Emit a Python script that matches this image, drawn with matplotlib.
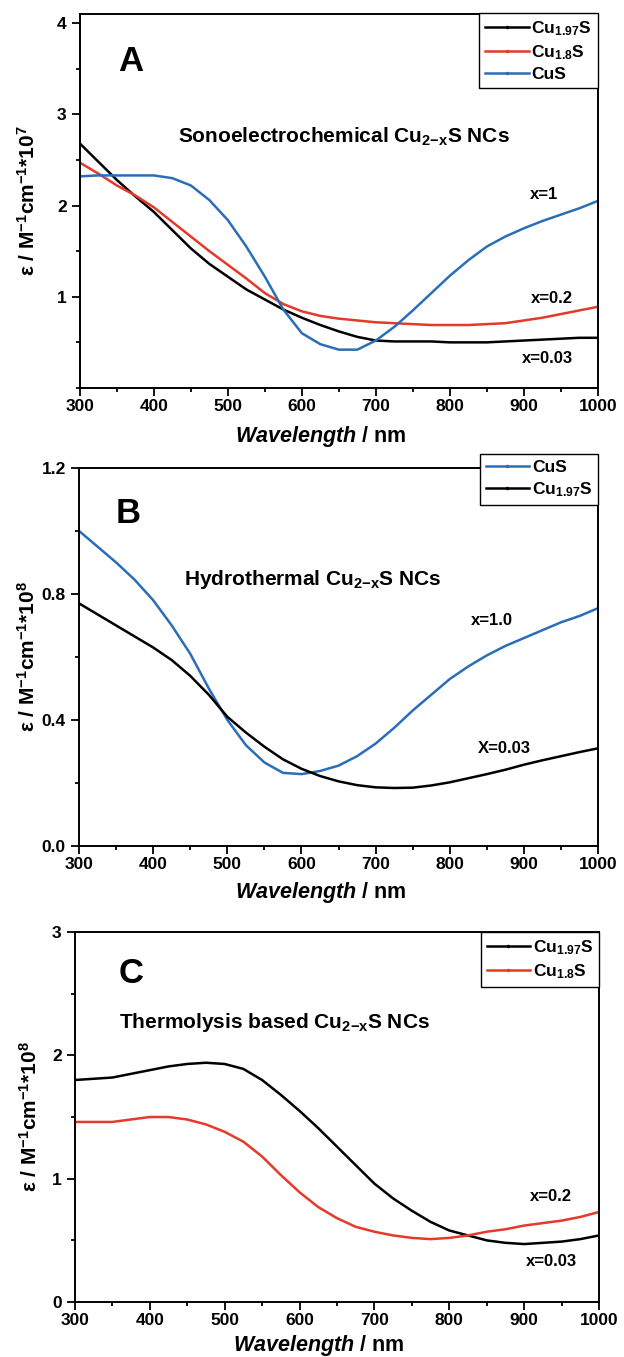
import numpy as np
import matplotlib
matplotlib.use("Agg")
import matplotlib.pyplot as plt
from matplotlib.lines import Line2D
from matplotlib.ticker import MultipleLocator

plt.rcParams['font.family'] = ['Liberation Sans', 'DejaVu Sans']
plt.rcParams['font.weight'] = 'bold'
plt.rcParams['axes.labelweight'] = 'bold'
plt.rcParams['mathtext.fontset'] = 'custom'
plt.rcParams['mathtext.rm'] = 'Liberation Sans:bold'
plt.rcParams['mathtext.bf'] = 'Liberation Sans:bold'
plt.rcParams['mathtext.it'] = 'Liberation Sans:italic:bold'
plt.rcParams['mathtext.default'] = 'bf'

# wavelength grid (nm), read every 25 nm
wl = np.arange(300, 1001, 25)

# panel A: sonoelectrochemical, eps x 1e7
a_cu197 = [2.68, 2.48, 2.28, 2.10, 1.93, 1.73, 1.53, 1.36, 1.22, 1.08, 0.97, 0.86, 0.77, 0.69, 0.62,
           0.56, 0.52, 0.51, 0.51, 0.51, 0.50, 0.50, 0.50, 0.51, 0.52, 0.53, 0.54, 0.55, 0.55]
a_cu18 = [2.47, 2.35, 2.22, 2.11, 1.98, 1.82, 1.66, 1.50, 1.35, 1.20, 1.04, 0.92, 0.84, 0.79, 0.76,
          0.74, 0.72, 0.71, 0.70, 0.69, 0.69, 0.69, 0.70, 0.71, 0.74, 0.77, 0.81, 0.85, 0.89]
a_cus = [2.32, 2.33, 2.33, 2.33, 2.33, 2.30, 2.22, 2.06, 1.84, 1.55, 1.22, 0.86, 0.60, 0.48, 0.42,
         0.42, 0.52, 0.67, 0.85, 1.04, 1.23, 1.40, 1.55, 1.66, 1.75, 1.83, 1.90, 1.97, 2.05]

# panel B: hydrothermal, eps x 1e8
b_cus = [1.00, 0.95, 0.90, 0.845, 0.78, 0.70, 0.61, 0.50, 0.40, 0.32, 0.265, 0.232, 0.228, 0.238, 0.255,
         0.285, 0.325, 0.375, 0.43, 0.48, 0.53, 0.57, 0.605, 0.635, 0.66, 0.685, 0.71, 0.73, 0.755]
b_cu197 = [0.77, 0.735, 0.70, 0.665, 0.63, 0.59, 0.54, 0.48, 0.41, 0.36, 0.315, 0.275, 0.245, 0.222, 0.205,
           0.193, 0.186, 0.184, 0.185, 0.192, 0.202, 0.215, 0.228, 0.242, 0.258, 0.272, 0.285, 0.298, 0.31]

# panel C: thermolysis, eps x 1e8
c_cu197 = [1.80, 1.81, 1.82, 1.85, 1.88, 1.91, 1.93, 1.94, 1.93, 1.89, 1.80, 1.68, 1.55, 1.41, 1.26,
           1.11, 0.96, 0.84, 0.74, 0.65, 0.58, 0.54, 0.50, 0.48, 0.47, 0.48, 0.49, 0.51, 0.54]
c_cu18 = [1.46, 1.46, 1.46, 1.48, 1.50, 1.50, 1.48, 1.44, 1.38, 1.30, 1.18, 1.03, 0.89, 0.77, 0.68,
          0.61, 0.57, 0.54, 0.52, 0.51, 0.52, 0.54, 0.57, 0.59, 0.62, 0.64, 0.66, 0.69, 0.73]

BLACK = 'black'
RED = '#e5392a'
BLUE = '#2c6db8'
LW = 1.8

fig = plt.figure(figsize=(6.24, 13.57), dpi=100)


def style_axes(ax, ymax, yticks, yminor, ylabel, ylab_x, xlab_y):
    ax.set_xlim(300, 1000)
    ax.set_ylim(0, ymax)
    ax.set_xticks(range(300, 1001, 100))
    ax.xaxis.set_minor_locator(MultipleLocator(50))
    ax.set_yticks(yticks)
    ax.yaxis.set_minor_locator(MultipleLocator(yminor))
    ax.tick_params(which='both', direction='out', top=False, right=False, labelsize=12.5, width=1.3)
    ax.tick_params(which='major', length=5.5)
    ax.tick_params(which='minor', length=3)
    ax.tick_params(axis='x', pad=2.5)
    ax.tick_params(axis='y', pad=4)
    for s in ax.spines.values():
        s.set_linewidth(1.4)
    ax.set_xlabel('$\\mathit{Wavelength}$ / nm', fontsize=15.5)
    ax.xaxis.set_label_coords(0.465, xlab_y)
    ax.set_ylabel(ylabel, fontsize=15)
    ax.yaxis.set_label_coords(ylab_x, 0.5)


def add_legend(ax, labels, colors, yanchor):
    handles = [Line2D([], [], color=c, lw=LW, marker='.', markersize=3) for c in colors]
    leg = ax.legend(handles, labels, loc='upper right', bbox_to_anchor=(1.0, yanchor),
                    borderaxespad=0, fancybox=False, edgecolor='black', framealpha=1,
                    fontsize=12.5, handlelength=2.5, handletextpad=0.15, labelspacing=0.3,
                    borderpad=0.35)
    leg.get_frame().set_linewidth(1.0)


# A
axA = fig.add_axes([0.128, 0.7141, 0.830, 0.2756])
axA.plot(wl, a_cu197, color=BLACK, lw=LW)
axA.plot(wl, a_cu18, color=RED, lw=LW)
axA.plot(wl, a_cus, color=BLUE, lw=LW)
style_axes(axA, 4.1, [1, 2, 3, 4], 0.5, 'ε / M$^{-1}$cm$^{-1}$*10$^{7}$', -0.08, -0.097)
add_legend(axA, ['Cu$_{1.97}$S', 'Cu$_{1.8}$S', 'CuS'], [BLACK, RED, BLUE], 1.003)
axA.text(369, 3.58, 'A', fontsize=25, ha='center', va='center')
axA.text(432, 2.75, 'Sonoelectrochemical Cu$_{2{-}x}$S NCs', fontsize=15, ha='left', va='center')
axA.text(927, 2.12, 'x=1', fontsize=12, ha='center', va='center')
axA.text(938, 0.98, 'x=0.2', fontsize=12, ha='center', va='center')
axA.text(932, 0.32, 'x=0.03', fontsize=12, ha='center', va='center')

# B
axB = fig.add_axes([0.1266, 0.3766, 0.832, 0.2786])
axB.plot(wl, b_cus, color=BLUE, lw=LW)
axB.plot(wl, b_cu197, color=BLACK, lw=LW)
style_axes(axB, 1.2, [0.0, 0.4, 0.8, 1.2], 0.2, 'ε / M$^{-1}$cm$^{-1}$*10$^{8}$', -0.077, -0.09)
axB.set_yticklabels(['0.0', '0.4', '0.8', '1.2'])
add_legend(axB, ['CuS', 'Cu$_{1.97}$S'], [BLUE, BLACK], 1.037)
axB.text(366, 1.056, 'B', fontsize=25, ha='center', va='center')
axB.text(441, 0.846, 'Hydrothermal Cu$_{2{-}x}$S NCs', fontsize=15, ha='left', va='center')
axB.text(857, 0.717, 'x=1.0', fontsize=12, ha='center', va='center')
axB.text(873, 0.309, 'X=0.03', fontsize=12, ha='center', va='center')

# C
axC = fig.add_axes([0.120, 0.0405, 0.840, 0.2727])
axC.plot(wl, c_cu197, color=BLACK, lw=LW)
axC.plot(wl, c_cu18, color=RED, lw=LW)
style_axes(axC, 3, [0, 1, 2, 3], 0.5, 'ε / M$^{-1}$cm$^{-1}$*10$^{8}$', -0.065, -0.085)
add_legend(axC, ['Cu$_{1.97}$S', 'Cu$_{1.8}$S'], [BLACK, RED], 1.0)
axC.text(375, 2.66, 'C', fontsize=25, ha='center', va='center')
axC.text(359, 2.27, 'Thermolysis based Cu$_{2{-}x}$S NCs', fontsize=15, ha='left', va='center')
axC.text(936, 0.855, 'x=0.2', fontsize=12, ha='center', va='center')
axC.text(936, 0.326, 'x=0.03', fontsize=12, ha='center', va='center')

fig.savefig('out.png', dpi=100)
